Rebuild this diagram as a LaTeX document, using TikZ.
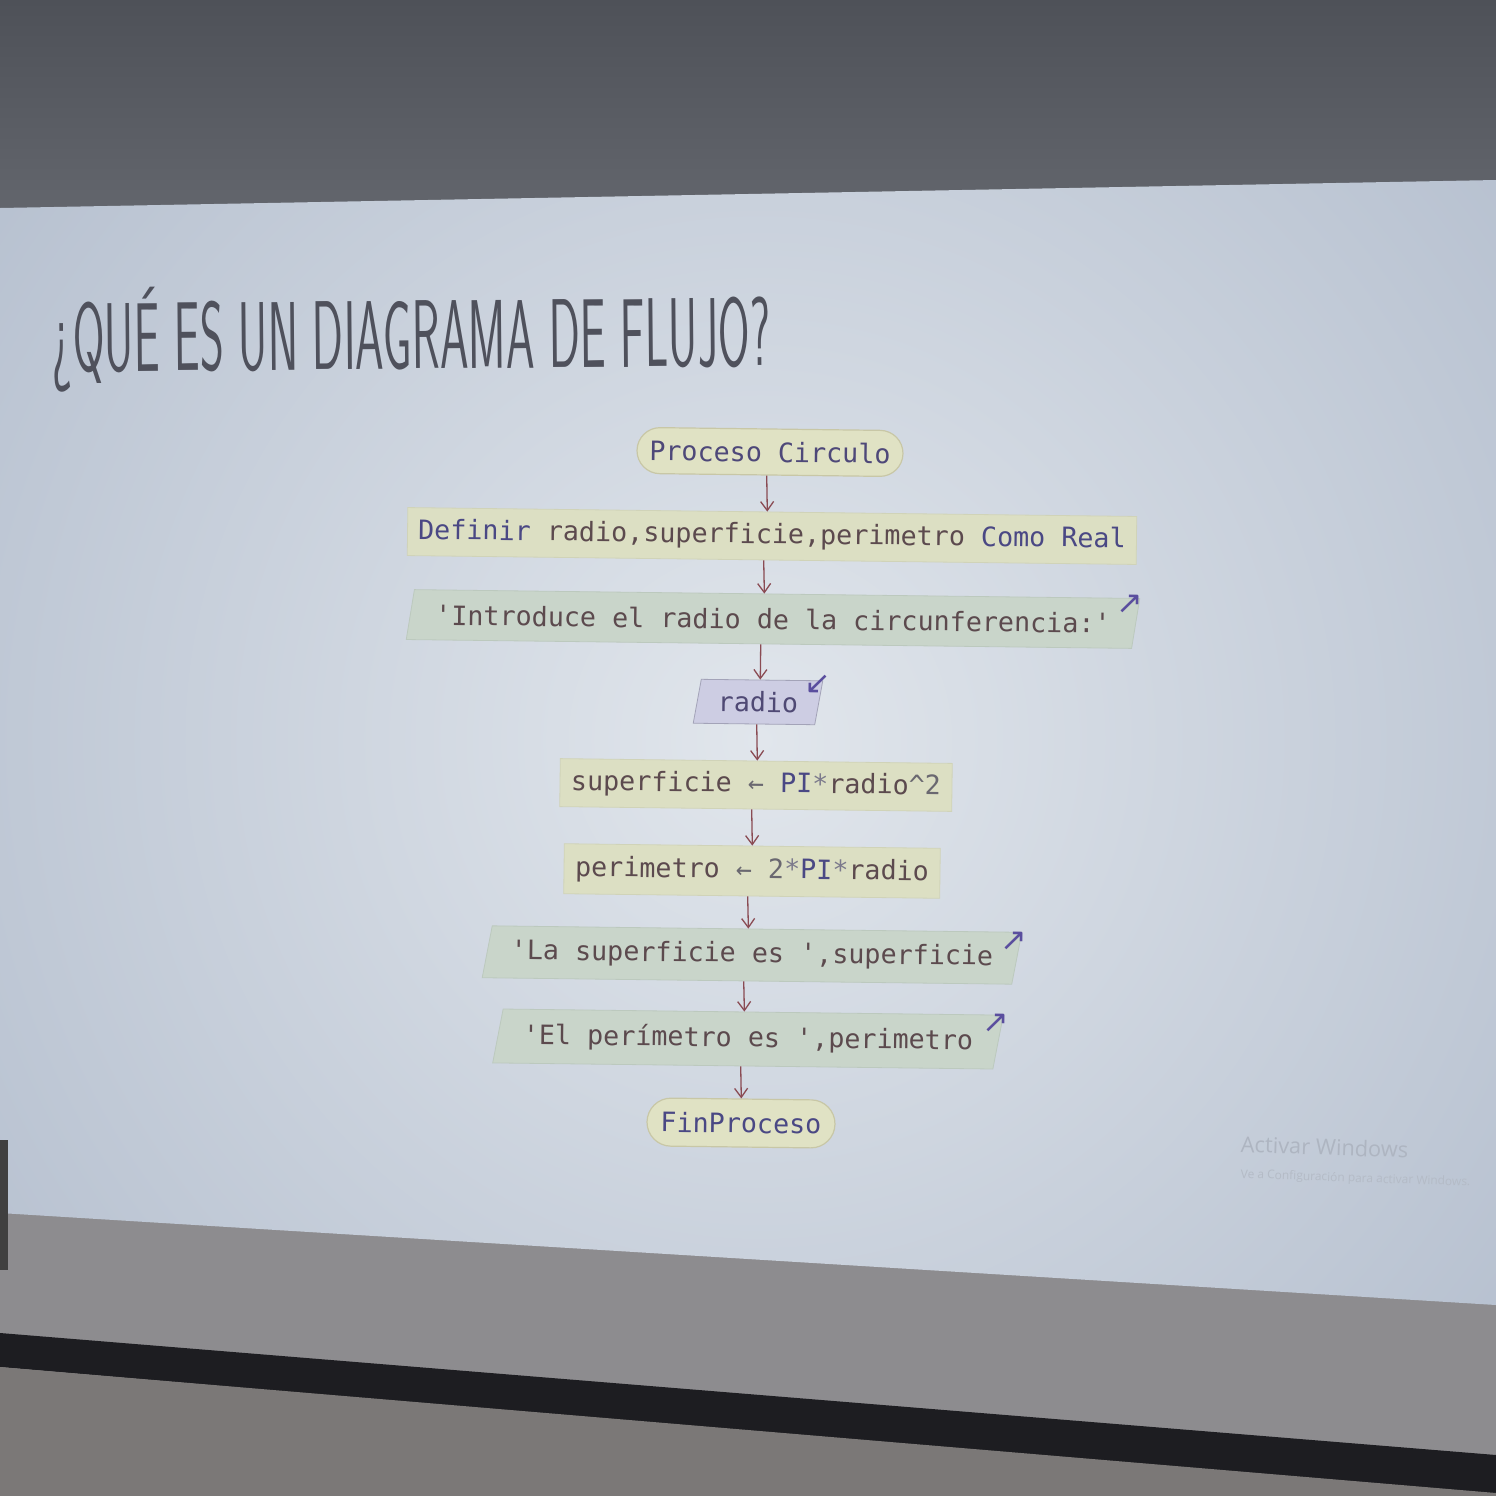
\documentclass[tikz,border=0pt]{standalone}
\usepackage{fontspec}
\usepackage{graphicx}
\usetikzlibrary{shapes.geometric,shapes.misc,arrows.meta,calc}
\newfontfamily\monof{DejaVu Sans Mono}
\newfontfamily\wmfont{Open Sans}
\newfontfamily\symf{DejaVu Sans}
\definecolor{wallA}{HTML}{4E5158}
\definecolor{wallB}{HTML}{63666D}
\definecolor{slidein}{HTML}{E1E6EC}
\definecolor{slideout}{HTML}{AEB9CA}
\definecolor{lowwall}{HTML}{8D8C8F}
\definecolor{barc}{HTML}{1D1D21}
\definecolor{floorc}{HTML}{7B7877}
\definecolor{titlec}{HTML}{4F515C}
\definecolor{txt}{HTML}{5C4A4E}
\definecolor{kw}{HTML}{4A4884}
\definecolor{startxt}{HTML}{7C7A8C}
\definecolor{numc}{HTML}{6A6870}
\definecolor{termfill}{HTML}{E0E2C4}
\definecolor{termline}{HTML}{C8C7A6}
\definecolor{procfill}{HTML}{DCDFC3}
\definecolor{procline}{HTML}{D0D3B8}
\definecolor{iofill}{HTML}{C9D5CA}
\definecolor{ioline}{HTML}{BCC9BE}
\definecolor{infill}{HTML}{CDCDE3}
\definecolor{inline}{HTML}{A3A3B8}
\definecolor{arrc}{HTML}{8A4B53}
\definecolor{ioarr}{HTML}{5A4E9E}
\definecolor{wmc}{HTML}{AEB5C1}
\definecolor{wmc2}{HTML}{B4BBC6}
\begin{document}
\begin{tikzpicture}[x=0.1mm,y=-0.1mm,
  base/.style={font=\monof\fontsize{7.6}{9}\selectfont, text=txt, rotate=-0.7, inner sep=0pt},
  term/.style={base, rounded rectangle, fill=termfill, draw=termline, line width=0.12mm},
  procb/.style={base, rectangle, fill=procfill, draw=procline, line width=0.08mm},
  iob/.style={base, trapezium, trapezium left angle=70, trapezium right angle=110,
    trapezium stretches body, fill=iofill, draw=ioline, line width=0.08mm},
  inb/.style={iob, fill=infill, draw=inline},
  flow/.style={draw=arrc, line width=0.13mm, -{Straight Barb[length=0.9mm,width=1.3mm]}},
  ioarrow/.style={font=\symf\fontsize{9}{9}\selectfont, text=ioarr, inner sep=0pt, rotate=-0.7}
]
\useasboundingbox (0,0) rectangle (1496,1496);
% ---- surroundings
\shade[top color=wallA, bottom color=wallB] (0,0) rectangle (1496,215);
\fill[lowwall] (0,1150) -- (1496,1250) -- (1496,1496) -- (0,1496) -- cycle;
\fill[barc] (0,1333) -- (1496,1455) -- (1496,1496) -- (0,1367) -- cycle;
\fill[floorc] (0,1367) -- (1496,1493) -- (1496,1496) -- (0,1496) -- cycle;
% ---- projected slide
\begin{scope}
  \clip (0,208) -- (1496,180) -- (1496,1305) -- (0,1213) -- cycle;
  \shade[inner color=slidein, outer color=slideout] (760,740) circle (1150);
\end{scope}
\fill[black!75] (0,1140) rectangle (8,1270);
% ---- title
\node[anchor=base west, inner sep=0pt, text=titlec, rotate=0.5] (title) at (52,372)
  {\resizebox{71.8mm}{\height}{\sffamily\fontsize{27.8}{30}\selectfont ¿QUÉ ES UN DIAGRAMA DE FLUJO?}};
% ---- flowchart
\node[term, minimum width=26.6mm, minimum height=4.6mm, text=kw!80!txt] (t1) at (770,452) {Proceso Circulo};
\node[procb, minimum width=72.9mm, minimum height=4.8mm] (def) at (772,536)
  {{\color{kw}Definir} radio,superficie,perimetro {\color{kw}Como Real}};
\node[iob, minimum width=73.3mm, minimum height=5mm] (intro) at (773,619)
  {'Introduce el radio de la circunferencia:'};
\node[inb, minimum width=12.9mm, minimum height=4.4mm, text=kw!70!txt] (radio) at (758,702) {radio};
\node[procb, minimum width=39.2mm, minimum height=4.8mm] (sup) at (756,785)
  {superficie {\color{numc}←} {\color{kw}PI}{\color{startxt}*}radio{\color{numc}\textasciicircum 2}};
\node[procb, minimum width=37.6mm, minimum height=5mm] (per) at (752,871)
  {perimetro {\color{numc}←} {\color{numc}2}{\color{startxt}*}{\color{kw}PI}{\color{startxt}*}radio};
\node[iob, minimum width=53.9mm, minimum height=5.2mm] (la) at (752,955)
  {'La superficie es ',superficie};
\node[iob, minimum width=51mm, minimum height=5.4mm] (el) at (748,1039)
  {'El perímetro es ',perimetro};
\node[term, minimum width=18.8mm, minimum height=4.8mm, text=kw] (fin) at (741,1123) {FinProceso};
% ---- io markers
\node[ioarrow] (m1) at ([shift={(-10,6)}]intro.top right corner) {↗};
\node[ioarrow] (m2) at ([shift={(-5,4)}]radio.top right corner) {↙};
\node[ioarrow] (m3) at ([shift={(-8,9)}]la.top right corner) {↗};
\node[ioarrow] (m4) at ([shift={(-8,9)}]el.top right corner) {↗};
% ---- connectors
\draw[flow] ([shift={(-3,0)}]t1.south) -- ([shift={(-5,0)}]def.north);
\draw[flow] ([shift={(-8,0)}]def.south) -- ([shift={(-9,0)}]intro.north);
\draw[flow] ([shift={(-12,0)}]intro.south) -- ([shift={(2,0)}]radio.north);
\draw[flow] ([shift={(-1,0)}]radio.south) -- ([shift={(1,0)}]sup.north);
\draw[flow] ([shift={(-4,0)}]sup.south) -- (per.north);
\draw[flow] ([shift={(-4,0)}]per.south) -- ([shift={(-4,0)}]la.north);
\draw[flow] ([shift={(-8,0)}]la.south) -- ([shift={(-4,0)}]el.north);
\draw[flow] ([shift={(-7,0)}]el.south) -- (fin.north);
% ---- watermark
\node[anchor=base west, inner sep=0pt, text=wmc, font=\wmfont\fontsize{6.2}{7}\selectfont, rotate=-2] (wm1) at (1240,1152) {Activar Windows};
\node[anchor=base west, inner sep=0pt, text=wmc2, font=\wmfont\fontsize{3.4}{4}\selectfont, rotate=-2] (wm2) at (1240,1178) {Ve a Configuración para activar Windows.};
\end{tikzpicture}
\end{document}
